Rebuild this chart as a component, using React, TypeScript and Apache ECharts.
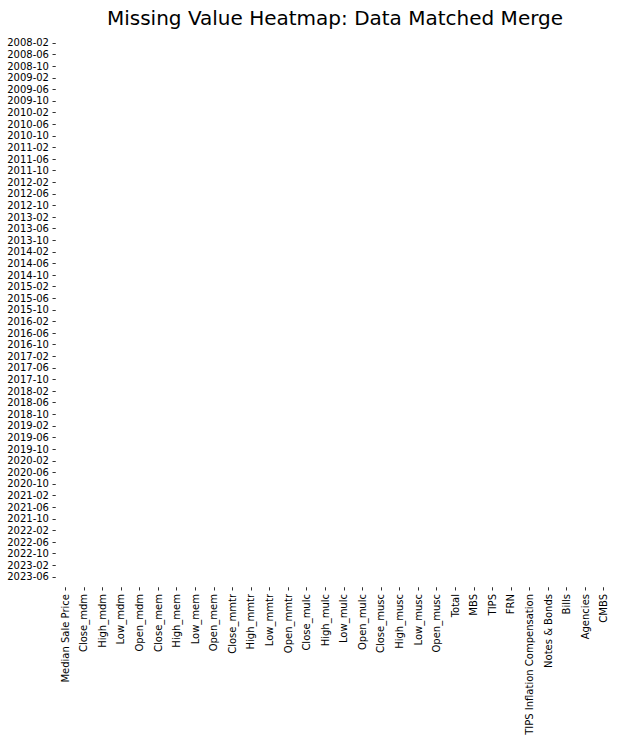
import React, { useEffect, useRef } from "react";
import * as echarts from "echarts";

// Column names (x axis)
const columns: string[] = [
  "Median Sale Price",
  "Close_mdm",
  "High_mdm",
  "Low_mdm",
  "Open_mdm",
  "Close_mem",
  "High_mem",
  "Low_mem",
  "Open_mem",
  "Close_mmtr",
  "High_mmtr",
  "Low_mmtr",
  "Open_mmtr",
  "Close_mulc",
  "High_mulc",
  "Low_mulc",
  "Open_mulc",
  "Close_musc",
  "High_musc",
  "Low_musc",
  "Open_musc",
  "Total",
  "MBS",
  "TIPS",
  "FRN",
  "TIPS Inflation Compensation",
  "Notes & Bonds",
  "Bills",
  "Agencies",
  "CMBS",
];

// Row range (monthly index)
const firstMonth = "2008-02";
const lastMonth = "2023-09";

// Missing cells as [row label, column name]; the merged data has none
const missingCells: [string, string][] = [];

function buildMonths(start: string, end: string): string[] {
  const [sy, sm] = start.split("-").map(Number);
  const [ey, em] = end.split("-").map(Number);
  const out: string[] = [];
  let y = sy;
  let m = sm;
  while (y < ey || (y === ey && m <= em)) {
    out.push(`${y}-${String(m).padStart(2, "0")}`);
    m += 1;
    if (m > 12) {
      m = 1;
      y += 1;
    }
  }
  return out;
}

const rows = buildMonths(firstMonth, lastMonth);

export default function App() {
  const ref = useRef<HTMLDivElement>(null);

  useEffect(() => {
    if (!ref.current) return;
    const chart = echarts.init(ref.current, null, { renderer: "svg" });
    const missingSet = new Set(missingCells.map(([r, c]) => `${r}|${c}`));
    const data: [number, number, number][] = [];
    rows.forEach((r, i) => {
      columns.forEach((c, j) => {
        data.push([j, i, missingSet.has(`${r}|${c}`) ? 1 : 0]);
      });
    });
    const font = "DejaVu Sans";
    chart.setOption({
      animation: false,
      backgroundColor: "#ffffff",
      title: {
        text: "Missing Value Heatmap: Data Matched Merge",
        left: 330,
        top: 3,
        textAlign: "center",
        textStyle: {
          fontFamily: font,
          fontSize: 20,
          fontWeight: "normal",
          color: "#000000",
        },
      },
      grid: { left: 56, right: 8, top: 41.5, bottom: 153, containLabel: false },
      xAxis: {
        type: "category",
        data: columns,
        axisLine: { show: false },
        axisTick: {
          show: true,
          alignWithLabel: true,
          interval: 0,
          length: 3.5,
          lineStyle: { color: "#000000", width: 0.8 },
        },
        axisLabel: {
          interval: 0,
          rotate: 90,
          margin: 7,
          fontFamily: font,
          fontSize: 10,
          color: "#000000",
        },
        splitLine: { show: false },
      },
      yAxis: {
        type: "category",
        data: rows,
        inverse: true,
        axisLine: { show: false },
        axisTick: {
          show: true,
          alignWithLabel: true,
          interval: 3,
          length: 3.5,
          lineStyle: { color: "#000000", width: 0.8 },
        },
        axisLabel: {
          interval: 3,
          margin: 7,
          fontFamily: font,
          fontSize: 10,
          color: "#000000",
        },
        splitLine: { show: false },
      },
      visualMap: {
        show: false,
        min: 0,
        max: 1,
        inRange: { color: ["#ffffff", "#000000"] },
      },
      series: [
        {
          type: "heatmap",
          data,
          itemStyle: { borderWidth: 0 },
          emphasis: { disabled: true },
        },
      ],
    });
    return () => chart.dispose();
  }, []);

  return (
    <div
      ref={ref}
      style={{ position: "fixed", left: 0, top: 0, width: 621, height: 740 }}
    />
  );
}
